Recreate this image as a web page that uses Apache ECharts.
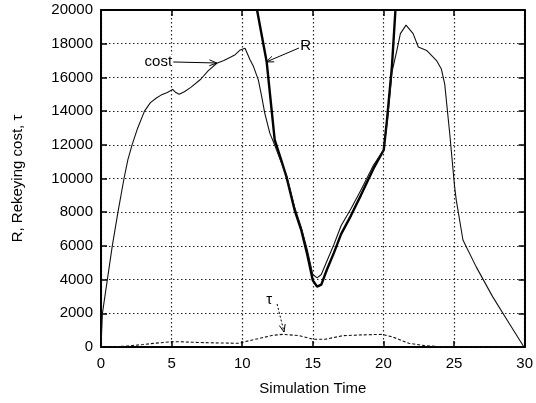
<!DOCTYPE html>
<html>
<head>
<meta charset="utf-8">
<script src="https://cdn.jsdelivr.net/npm/echarts@6/dist/echarts.min.js"></script>
<style>
html,body{margin:0;padding:0;background:#fff;}
#main{width:536px;height:403px;}
</style>
</head>
<body>
<div id="main"></div>
<script>
// ---- data ----
var xTicks = [0, 5, 10, 15, 20, 25, 30];
var yTicks = [0, 2000, 4000, 6000, 8000, 10000, 12000, 14000, 16000, 18000, 20000];

var costData = [
  [0,0],[0.1,2000],[0.45,4000],[0.8,6000],[1.2,8000],[1.63,10000],[1.9,11100],[2.2,12000],
  [2.6,13000],[3.08,14000],[3.5,14500],[3.9,14760],[4.25,14950],[4.7,15100],[5.07,15290],
  [5.3,15100],[5.54,15000],[5.9,15150],[6.36,15410],[7.06,15890],[7.6,16400],[8.2,16840],
  [8.7,17000],[9.16,17190],[9.5,17350],[9.86,17630],[10.2,17730],[10.56,17030],[10.8,16640],
  [11.14,15850],[11.38,14860],[11.6,13870],[11.96,12680],[12.3,11990],[12.7,11100],
  [13.13,10200],[13.71,8300],[14.18,7100],[14.6,5800],[15.0,4300],[15.3,4100],[15.6,4300],
  [16.0,5100],[16.5,6100],[17.0,7200],[17.7,8200],[18.4,9300],[19.3,10800],[20.02,11700],
  [20.3,13600],[20.6,16300],[20.95,17600],[21.2,18600],[21.6,19100],[22.1,18600],
  [22.47,17800],[23.06,17600],[23.76,17000],[24.1,16500],[24.34,15600],[24.69,12700],
  [25.04,9500],[25.16,8700],[25.63,6350],[26.56,4770],[27.73,2990],[28.9,1410],[29.95,0]
];

var rData = [
  [11.05,20000],[11.73,16930],[12.3,12290],[12.7,11250],[13.13,10110],[13.71,8130],
  [14.18,6940],[14.6,5500],[15.0,3950],[15.3,3580],[15.6,3700],[16.0,4600],[16.5,5600],
  [17.0,6700],[17.7,7800],[18.4,9000],[19.3,10600],[20.02,11690],[20.25,13470],
  [20.6,16640],[20.85,20000]
];

var tauData = [
  [0,0],[1,20],[1.9,60],[3,150],[3.78,220],[4.95,310],[5.6,310],[6.5,280],[7.76,250],
  [9.86,220],[10.1,300],[11.26,520],[12.2,700],[12.9,750],[14.06,670],[15.0,460],
  [15.9,460],[17.1,670],[18.5,720],[19.9,750],[20.6,610],[21.8,220],[22.9,80],[24,20],[30,0]
];

// annotations: [label, textX, textY, arrowFromX, arrowFromY, arrowToX, arrowToY, dashed]
var annotations = [
  ['cost', 4.06, 16915, 5.12, 16915, 8.2, 16855, false],
  ['R', 14.5, 17865, 14.02, 17745, 11.70, 16915, false],
  ['\u03c4', 11.91, 2790, 12.47, 2552, 12.96, 890, true]
];

var FONT = '"Liberation Sans", Arial, Helvetica, sans-serif';
var chart = echarts.init(document.getElementById('main'), null, {renderer: 'canvas'});

var axisCommonX = {
  type: 'value', min: xTicks[0], max: xTicks[xTicks.length - 1], interval: 5
};
var axisCommonY = {
  type: 'value', min: yTicks[0], max: yTicks[yTicks.length - 1], interval: 2000
};
var lineAxis = {onZero: false, lineStyle: {color: '#000', width: 2}};
var tickAxis = {inside: true, length: 6, lineStyle: {color: '#000', width: 1.5}};

var option = {
  animation: false,
  backgroundColor: '#fff',
  grid: {left: 101, right: 7, top: 10, bottom: 56, containLabel: false},
  xAxis: [
    Object.assign({}, axisCommonX, {
      position: 'bottom',
      name: 'Simulation Time', nameLocation: 'middle', nameGap: 34,
      nameTextStyle: {fontFamily: FONT, fontSize: 15, color: '#000'},
      axisLine: lineAxis,
      axisTick: tickAxis,
      axisLabel: {fontFamily: FONT, fontSize: 15, color: '#000', margin: 9,
        formatter: function (v) { return String(v); }},
      splitLine: {show: true, lineStyle: {color: '#222', type: [1.5, 2.5], width: 1.2}}
    }),
    Object.assign({}, axisCommonX, {
      position: 'top',
      axisLine: lineAxis,
      axisTick: tickAxis,
      axisLabel: {show: false},
      splitLine: {show: false}
    })
  ],
  yAxis: [
    Object.assign({}, axisCommonY, {
      position: 'left',
      name: 'R, Rekeying cost, \u03c4', nameLocation: 'middle', nameGap: 76,
      nameTextStyle: {fontFamily: FONT, fontSize: 15, color: '#000'},
      axisLine: lineAxis,
      axisTick: tickAxis,
      axisLabel: {fontFamily: FONT, fontSize: 15, color: '#000', margin: 8,
        formatter: function (v) { return String(v); }},
      splitLine: {show: true, lineStyle: {color: '#222', type: [1.5, 2.5], width: 1.2}}
    }),
    Object.assign({}, axisCommonY, {
      position: 'right',
      axisLine: lineAxis,
      axisTick: tickAxis,
      axisLabel: {show: false},
      splitLine: {show: false}
    })
  ],
  series: [
    {
      name: 'cost', type: 'line', data: costData, showSymbol: false, symbol: 'none',
      clip: true, lineStyle: {color: '#111', width: 1.1}, z: 3
    },
    {
      name: 'R', type: 'line', data: rData, showSymbol: false, symbol: 'none',
      clip: true, lineStyle: {color: '#000', width: 2.4}, z: 2
    },
    {
      name: 'tau', type: 'line', data: tauData, showSymbol: false, symbol: 'none',
      clip: true, lineStyle: {color: '#111', width: 1.1, type: [3, 2]}, z: 3
    }
  ]
};
chart.setOption(option);

// annotations positioned from data coordinates
var graphics = [];
annotations.forEach(function (a) {
  var t = chart.convertToPixel({xAxisIndex: 0, yAxisIndex: 0}, [a[1], a[2]]);
  var p1 = chart.convertToPixel({xAxisIndex: 0, yAxisIndex: 0}, [a[3], a[4]]);
  var p2 = chart.convertToPixel({xAxisIndex: 0, yAxisIndex: 0}, [a[5], a[6]]);
  graphics.push({
    type: 'text', x: t[0], y: t[1], z: 10,
    style: {text: a[0], fontFamily: FONT, fontSize: 15, fill: '#000', align: 'center', verticalAlign: 'middle',
      backgroundColor: a[0] === 'cost' ? '#fff' : null}
  });
  graphics.push({
    type: 'line', z: 10,
    shape: {x1: p1[0], y1: p1[1], x2: p2[0], y2: p2[1]},
    style: {stroke: '#000', lineWidth: 1, lineDash: a[7] ? [2, 2] : null}
  });
  var ang = Math.atan2(p2[1] - p1[1], p2[0] - p1[0]);
  var L = 8, w = 0.38;
  var h1 = [p2[0] - L * Math.cos(ang - w), p2[1] - L * Math.sin(ang - w)];
  var h2 = [p2[0] - L * Math.cos(ang + w), p2[1] - L * Math.sin(ang + w)];
  graphics.push({
    type: 'polyline', z: 10,
    shape: {points: [h1, p2, h2]},
    style: {stroke: '#000', lineWidth: 1, fill: null}
  });
});
chart.setOption({graphic: graphics});
</script>
</body>
</html>
